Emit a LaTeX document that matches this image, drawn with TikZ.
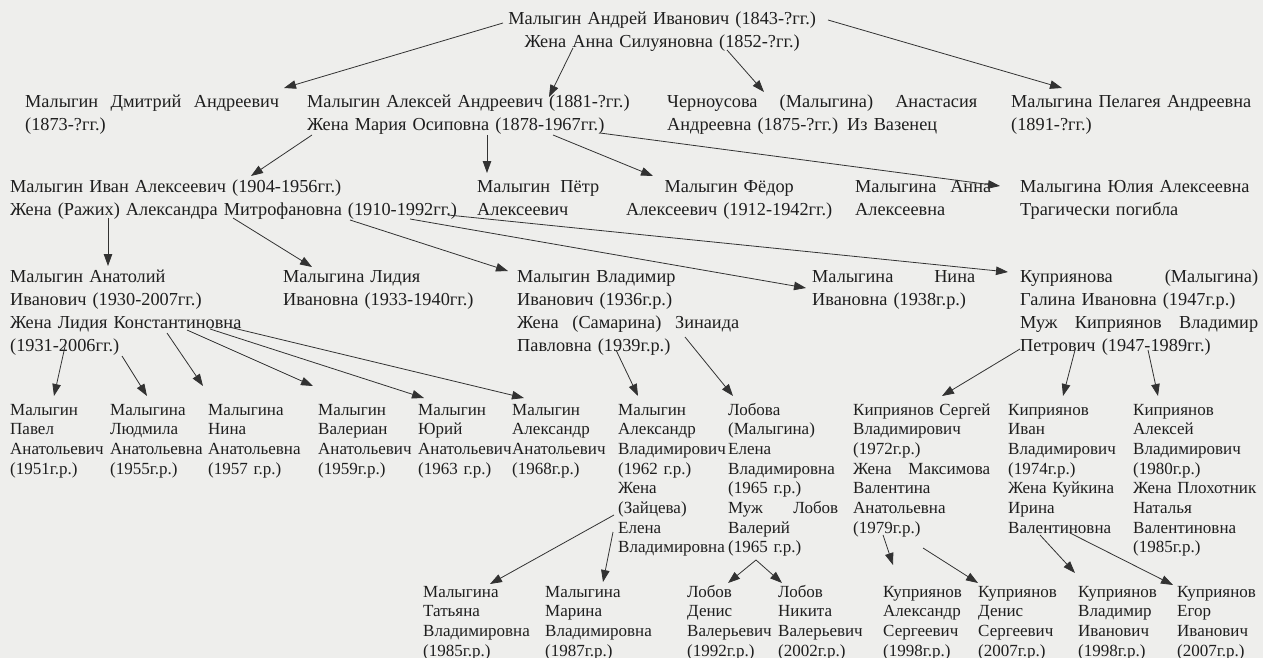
\documentclass[tikz,border=0pt]{standalone}
\usepackage{fontspec}
\setmainfont{Liberation Serif}
\usetikzlibrary{arrows.meta}
\definecolor{paper}{RGB}{238,238,236}
\definecolor{ink}{RGB}{30,30,30}
\definecolor{inkline}{RGB}{50,50,50}
% one line spread out to a given width
\newcommand\spr[2]{\makebox[#1][s]{#2}}
\tikzset{
  % --- PEOPLE ---
  person/.style={
    anchor=base west,
    inner sep=0pt,
    align=left,
    text=ink,
    font=\fontsize{18.3}{23}\selectfont
  },
  kid/.style={
    person,
    text width=110pt,
    font=\fontsize{17}{19.7}\selectfont
  },
  % --- ARROWS ---
  arrw/.style={
    draw=inkline,
    line width=0.8pt,
    -{Triangle[length=12pt,width=8.5pt]}
  },
}
\begin{document}
\begin{tikzpicture}[x=1pt,y=-1pt]
  \useasboundingbox (0,0) rectangle (1263,658);
  \fill[paper] (0,0) rectangle (1263,658);
  % --- row 1
  \node[person, text width=320pt, align=center] (andrej) at (502,25) {Малыгин Андрей Иванович (1843-?гг.)\\Жена Анна Силуяновна (1852-?гг.)};
  % --- row 2
  \node[person, text width=254pt] (dmitrij) at (25,108) {\spr{254pt}{Малыгин\hfill Дмитрий\hfill Андреевич}\\(1873-?гг.)};
  \node[person, text width=340pt] (aleksej) at (307,108) {Малыгин Алексей Андреевич (1881-?гг.)\\Жена Мария Осиповна (1878-1967гг.)};
  \node[person, text width=310pt] (chernousova) at (667,108) {\spr{310pt}{Черноусова\hfill (Малыгина)\hfill Анастасия}\\Андреевна (1875-?гг.) Из Вазенец};
  \node[person, text width=250pt] (pelageja) at (1011,108) {Малыгина Пелагея Андреевна\\(1891-?гг.)};
  % --- row 3
  \node[person, text width=450pt] (ivan) at (10,192) {Малыгин Иван Алексеевич (1904-1956гг.)\\Жена (Ражих) Александра Митрофановна (1910-1992гг.)};
  \node[person, text width=122pt] (petr) at (477,192) {\spr{122pt}{Малыгин\hfill Пётр}\\Алексеевич};
  \node[person, text width=218pt, align=center] (fedor) at (620,192) {Малыгин Фёдор\\Алексеевич (1912-1942гг.)};
  \node[person, text width=136pt] (anna) at (855,192) {\spr{136pt}{Малыгина\hfill Анна}\\Алексеевна};
  \node[person, text width=240pt] (julija) at (1020,192) {Малыгина Юлия Алексеевна\\Трагически погибла};
  % --- row 4
  \node[person, text width=250pt] (anatolij) at (10,282) {Малыгин Анатолий\\Иванович (1930-2007гг.)\\Жена Лидия Константиновна\\(1931-2006гг.)};
  \node[person, text width=200pt] (lidija) at (283,282) {Малыгина Лидия\\Ивановна (1933-1940гг.)};
  \node[person, text width=222pt] (vladimir) at (517,282) {Малыгин Владимир\\Иванович (1936г.р.)\\\spr{222pt}{Жена\hfill (Самарина)\hfill Зинаида}\\Павловна (1939г.р.)};
  \node[person, text width=163pt] (nina) at (812,282) {\spr{163pt}{Малыгина\hfill Нина}\\Ивановна (1938г.р.)};
  \node[person, text width=238pt] (galina) at (1020,282) {\spr{238pt}{Куприянова\hfill (Малыгина)}\\Галина Ивановна (1947г.р.)\\\spr{238pt}{Муж\hfill Киприянов\hfill Владимир}\\Петрович (1947-1989гг.)};
  % --- row 5
  \node[kid] (pavel)      at (10,415)  {Малыгин\\Павел\\Анатольевич\\(1951г.р.)};
  \node[kid] (ljudmila)   at (110,415) {Малыгина\\Людмила\\Анатольевна\\(1955г.р.)};
  \node[kid] (ninaA)      at (208,415) {Малыгина\\Нина\\Анатольевна\\(1957 г.р.)};
  \node[kid] (valerian)   at (318,415) {Малыгин\\Валериан\\Анатольевич\\(1959г.р.)};
  \node[kid] (jurij)      at (418,415) {Малыгин\\Юрий\\Анатольевич\\(1963 г.р.)};
  \node[kid] (aleksandrA) at (512,415) {Малыгин\\Александр\\Анатольевич\\(1968г.р.)};
  \node[kid] (aleksandrV) at (618,415) {Малыгин\\Александр\\Владимирович\\(1962 г.р.)\\Жена\\(Зайцева)\\Елена\\Владимировна};
  \node[kid, text width=110pt] (lobova) at (728,415) {Лобова\\(Малыгина)\\Елена\\Владимировна\\(1965 г.р.)\\\spr{110pt}{Муж\hfill Лобов}\\Валерий\\(1965 г.р.)};
  \node[kid, text width=147pt] (sergej) at (853,415) {Киприянов Сергей\\Владимирович\\(1972г.р.)\\\spr{137pt}{Жена\hfill Максимова}\\Валентина\\Анатольевна\\(1979г.р.)};
  \node[kid] (ivanK)      at (1008,415) {Киприянов\\Иван\\Владимирович\\(1974г.р.)\\Жена Куйкина\\Ирина\\Валентиновна};
  \node[kid, text width=130pt] (aleksejK) at (1133,415) {Киприянов\\Алексей\\Владимирович\\(1980г.р.)\\Жена Плохотник\\Наталья\\Валентиновна\\(1985г.р.)};
  % --- row 6
  \node[kid] (tatjana)    at (423,597)  {Малыгина\\Татьяна\\Владимировна\\(1985г.р.)};
  \node[kid] (marina)     at (545,597)  {Малыгина\\Марина\\Владимировна\\(1987г.р.)};
  \node[kid] (denisL)     at (687,597)  {Лобов\\Денис\\Валерьевич\\(1992г.р.)};
  \node[kid] (nikita)     at (778,597)  {Лобов\\Никита\\Валерьевич\\(2002г.р.)};
  \node[kid] (aleksandrK) at (883,597)  {Куприянов\\Александр\\Сергеевич\\(1998г.р.)};
  \node[kid] (denisK)     at (978,597)  {Куприянов\\Денис\\Сергеевич\\(2007г.р.)};
  \node[kid] (vladimirK)  at (1078,597) {Куприянов\\Владимир\\Иванович\\(1998г.р.)};
  \node[kid] (egor)       at (1177,597) {Куприянов\\Егор\\Иванович\\(2007г.р.)};
  % --- arrows row 1 -> row 2
  \draw[arrw] ([shift={(1,-2)}]andrej.base west) -- ([shift={(259,-20)}]dmitrij.base west);
  \draw[arrw] ([shift={(71,23)}]andrej.base west) -- ([shift={(242,-11)}]aleksej.base west);
  \draw[arrw] ([shift={(225,25)}]andrej.base west) -- ([shift={(97,-16)}]chernousova.base west);
  \draw[arrw] ([shift={(326,-5)}]andrej.base west) -- ([shift={(51,-20)}]pelageja.base west);
  % --- arrows row 2 -> row 3
  \draw[arrw] ([shift={(5,27)}]aleksej.base west) -- ([shift={(241,-16)}]ivan.base west);
  \draw[arrw] ([shift={(180,27)}]aleksej.base west) -- ([shift={(10,-19)}]petr.base west);
  \draw[arrw] ([shift={(246,27)}]aleksej.base west) -- ([shift={(33,-16)}]fedor.base west);
  \draw[arrw] ([shift={(293,25)}]aleksej.base west) -- ([shift={(-20,-6)}]julija.base west);
  % --- arrows row 3 -> row 4
  \draw[arrw] ([shift={(98,26)}]ivan.base west) -- ([shift={(98,-16)}]anatolij.base west);
  \draw[arrw] ([shift={(223,26)}]ivan.base west) -- ([shift={(29,-15)}]lidija.base west);
  \draw[arrw] ([shift={(340,28)}]ivan.base west) -- ([shift={(-9,-11)}]vladimir.base west);
  \draw[arrw] ([shift={(400,27)}]ivan.base west) -- ([shift={(-6,6)}]nina.base west);
  \draw[arrw] ([shift={(438,23)}]ivan.base west) -- ([shift={(-12,-10)}]galina.base west);
  % --- arrows row 4 -> row 5
  \draw[arrw] ([shift={(56,60)}]anatolij.base west) -- ([shift={(44,-19)}]pavel.base west);
  \draw[arrw] ([shift={(112,74)}]anatolij.base west) -- ([shift={(37,-19)}]ljudmila.base west);
  \draw[arrw] ([shift={(157,51)}]anatolij.base west) -- ([shift={(-5,-29)}]ninaA.base west);
  \draw[arrw] ([shift={(177,48)}]anatolij.base west) -- ([shift={(-5,-29)}]valerian.base west);
  \draw[arrw] ([shift={(200,47)}]anatolij.base west) -- ([shift={(6,-17)}]jurij.base west);
  \draw[arrw] ([shift={(219,45)}]anatolij.base west) -- ([shift={(12,-17)}]aleksandrA.base west);
  \draw[arrw] ([shift={(99,68)}]vladimir.base west) -- ([shift={(20,-19)}]aleksandrV.base west);
  \draw[arrw] ([shift={(168,55)}]vladimir.base west) -- ([shift={(5,-19)}]lobova.base west);
  \draw[arrw] ([shift={(0,67)}]galina.base west) -- ([shift={(89,-19)}]sergej.base west);
  \draw[arrw] ([shift={(55,68)}]galina.base west) -- ([shift={(55,-19)}]ivanK.base west);
  \draw[arrw] ([shift={(128,68)}]galina.base west) -- ([shift={(25,-19)}]aleksejK.base west);
  % --- arrows row 5 -> row 6
  \draw[arrw] ([shift={(-4,100)}]aleksandrV.base west) -- ([shift={(67,-13)}]tatjana.base west);
  \draw[arrw] ([shift={(-5,117)}]aleksandrV.base west) -- ([shift={(58,-15)}]marina.base west);
  \draw[arrw] ([shift={(28,145)}]lobova.base west) -- ([shift={(41,-14)}]denisL.base west);
  \draw[arrw] ([shift={(28,145)}]lobova.base west) -- ([shift={(4,-14)}]nikita.base west);
  \draw[arrw] ([shift={(30,120)}]sergej.base west) -- ([shift={(10,-32)}]aleksandrK.base west);
  \draw[arrw] ([shift={(70,133)}]sergej.base west) -- ([shift={(0,-14)}]denisK.base west);
  \draw[arrw] ([shift={(32,120)}]ivanK.base west) -- ([shift={(-3,-24)}]vladimirK.base west);
  \draw[arrw] ([shift={(62,118)}]ivanK.base west) -- ([shift={(-4,-12)}]egor.base west);
\end{tikzpicture}
\end{document}
